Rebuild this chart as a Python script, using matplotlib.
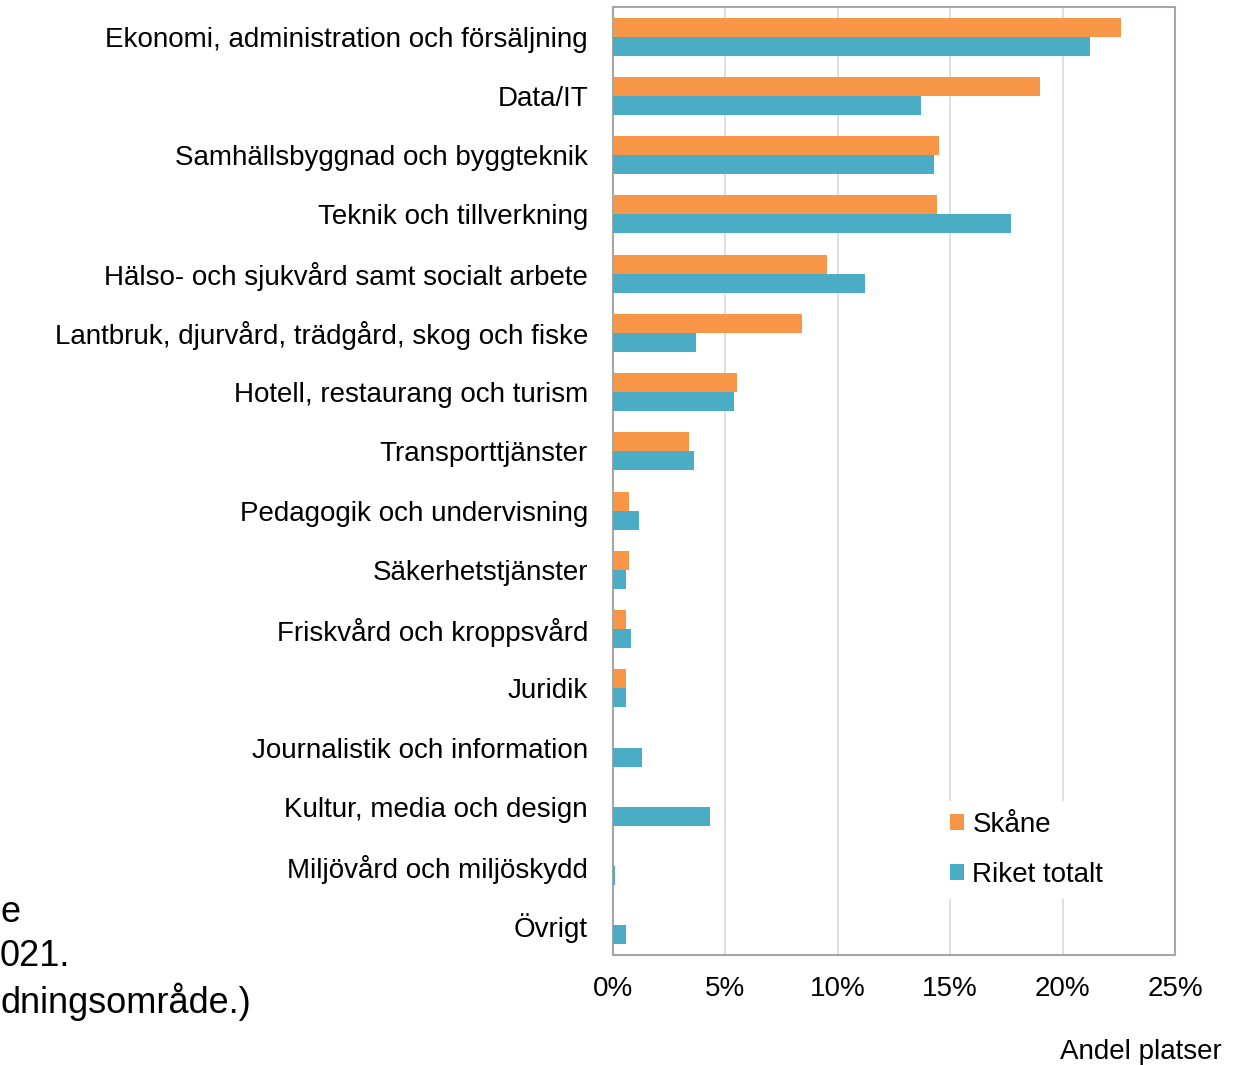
import matplotlib.pyplot as plt
import numpy as np

plt.rcParams['font.family'] = ['Liberation Sans', 'DejaVu Sans']

kategorier = ['Ekonomi, administration och försäljning', 'Data/IT',
              'Samhällsbyggnad och byggteknik', 'Teknik och tillverkning',
              'Hälso- och sjukvård samt socialt arbete',
              'Lantbruk, djurvård, trädgård, skog och fiske',
              'Hotell, restaurang och turism', 'Transporttjänster',
              'Pedagogik och undervisning', 'Säkerhetstjänster',
              'Friskvård och kroppsvård', 'Juridik',
              'Journalistik och information', 'Kultur, media och design',
              'Miljövård och miljöskydd', 'Övrigt']
skane = [22.6, 19.0, 14.5, 14.4, 9.5, 8.4, 5.5, 3.4, 0.7, 0.7, 0.6, 0.6, 0, 0, 0, 0]
riket = [21.2, 13.7, 14.3, 17.7, 11.2, 3.7, 5.4, 3.6, 1.15, 0.6, 0.8, 0.6, 1.3, 4.3, 0.1, 0.6]
xticks = [0, 5, 10, 15, 20, 25]

fs = 20  # textstorlek

fig = plt.figure(figsize=(12.37, 10.65), dpi=100)
ax = fig.add_axes([613/1237, 1 - 955/1065, (1175-613)/1237, (955-7)/1065])

y = np.arange(len(kategorier))
h = 0.32
ax.barh(y - h/2, skane, h, color='#F79646', label='Skåne', zorder=3)
ax.barh(y + h/2, riket, h, color='#4BACC6', label='Riket totalt', zorder=3)

ax.set_ylim(len(kategorier) - 0.5, -0.5)
ax.set_xlim(0, 25)
ax.set_yticks(y)
ax.set_yticklabels(kategorier, fontsize=fs)
ax.set_xticks(xticks)
ax.set_xticklabels([f'{t}%' for t in xticks], fontsize=fs)
ax.tick_params(length=0)
ax.tick_params(axis='y', pad=18)
ax.tick_params(axis='x', pad=15)
ax.grid(axis='x', color='#D9D9D9', linewidth=1.2, zorder=0)
for s in ax.spines.values():
    s.set_color('#A6A6A6')
    s.set_linewidth(1.5)

leg = ax.legend(loc='center left', bbox_to_anchor=(0.58, 0.111), fontsize=fs,
                frameon=True, edgecolor='none', fancybox=False, framealpha=1,
                borderaxespad=0, borderpad=0.4,
                handlelength=0.5, handleheight=0.5, handletextpad=0.3,
                labelspacing=0.85)

fig.text(1222/1237, 1 - 1052/1065, 'Andel platser', fontsize=fs, ha='right', va='center')

# avskuren text till vänster
fig.text(0, 1 - 912/1065, 'e', fontsize=26, ha='left', va='center')
fig.text(0, 1 - 957/1065, '021.', fontsize=26, ha='left', va='center')
fig.text(0, 1 - 1002/1065, 'dningsområde.)', fontsize=26, ha='left', va='center')

plt.savefig('out.png')
